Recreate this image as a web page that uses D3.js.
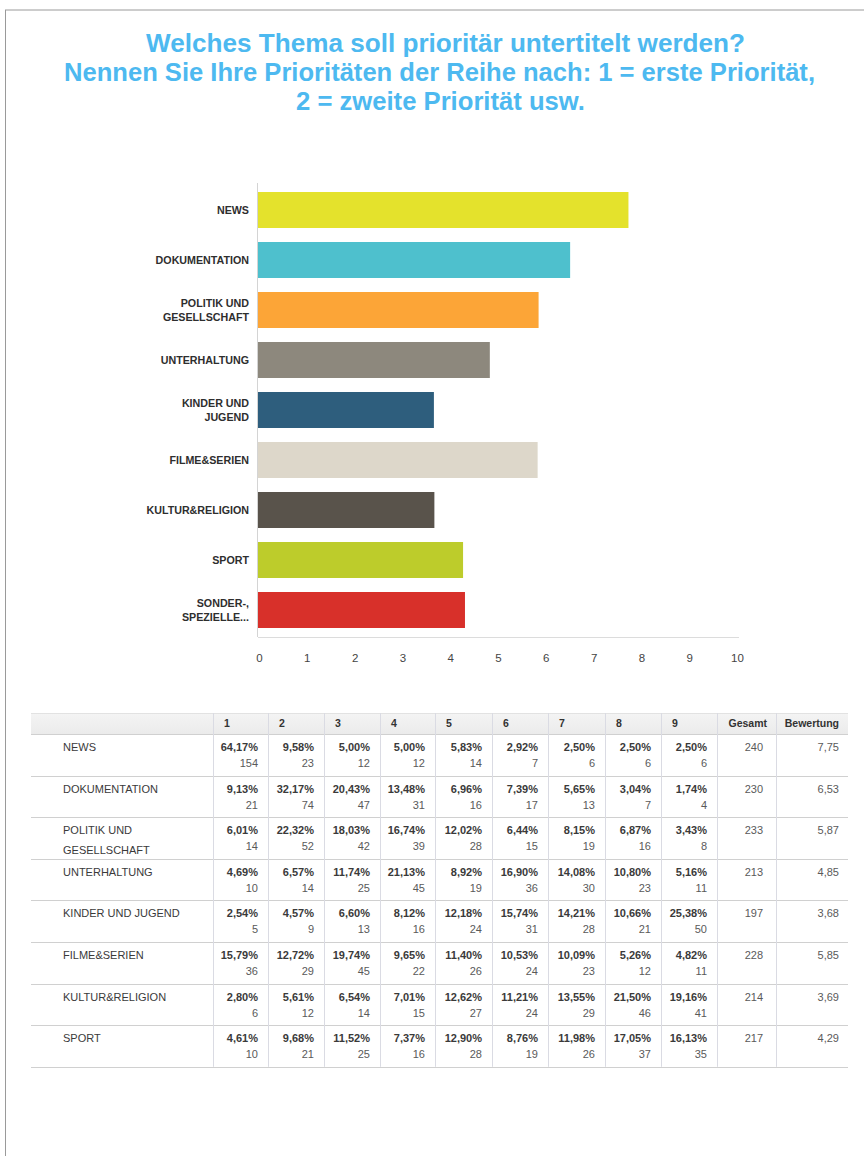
<!DOCTYPE html>
<html>
<head>
<meta charset="utf-8">
<script src="https://cdn.jsdelivr.net/npm/d3@7"></script>
<style>
  html, body { margin: 0; padding: 0; background: #fff; }
  svg { display: block; }
  text { font-family: "Liberation Sans", Arial, sans-serif; }
</style>
</head>
<body>
<svg id="chart" width="864" height="1156"></svg>
<script>
// ---- Data ----
const titleLines = [
  "Welches Thema soll prioritär untertitelt werden?",
  "Nennen Sie Ihre Prioritäten der Reihe nach: 1 = erste Priorität,",
  "2 = zweite Priorität usw."
];

// Bar chart: average rating per topic
const categories = [
  ["NEWS"],
  ["DOKUMENTATION"],
  ["POLITIK UND", "GESELLSCHAFT"],
  ["UNTERHALTUNG"],
  ["KINDER UND", "JUGEND"],
  ["FILME&SERIEN"],
  ["KULTUR&RELIGION"],
  ["SPORT"],
  ["SONDER-,", "SPEZIELLE..."]
];
const scores = [7.75, 6.53, 5.87, 4.85, 3.68, 5.85, 3.69, 4.29, 4.33];
const barColors = ["#e4e22c", "#4ec0cd", "#fca537", "#8d887d", "#2e5e7d",
                   "#ddd7ca", "#59534b", "#bdcc2b", "#d8302a"];
const xTicks = [0, 1, 2, 3, 4, 5, 6, 7, 8, 9, 10];

// Table: share and count per priority rank
const rankHeaders = ["1", "2", "3", "4", "5", "6", "7", "8", "9", "Gesamt", "Bewertung"];
const rowLabels = [
  ["NEWS"],
  ["DOKUMENTATION"],
  ["POLITIK UND", "GESELLSCHAFT"],
  ["UNTERHALTUNG"],
  ["KINDER UND JUGEND"],
  ["FILME&SERIEN"],
  ["KULTUR&RELIGION"],
  ["SPORT"]
];
const percents = [
  [64.17, 9.58, 5.00, 5.00, 5.83, 2.92, 2.50, 2.50, 2.50],
  [9.13, 32.17, 20.43, 13.48, 6.96, 7.39, 5.65, 3.04, 1.74],
  [6.01, 22.32, 18.03, 16.74, 12.02, 6.44, 8.15, 6.87, 3.43],
  [4.69, 6.57, 11.74, 21.13, 8.92, 16.90, 14.08, 10.80, 5.16],
  [2.54, 4.57, 6.60, 8.12, 12.18, 15.74, 14.21, 10.66, 25.38],
  [15.79, 12.72, 19.74, 9.65, 11.40, 10.53, 10.09, 5.26, 4.82],
  [2.80, 5.61, 6.54, 7.01, 12.62, 11.21, 13.55, 21.50, 19.16],
  [4.61, 9.68, 11.52, 7.37, 12.90, 8.76, 11.98, 17.05, 16.13]
];
const counts = [
  [154, 23, 12, 12, 14, 7, 6, 6, 6],
  [21, 74, 47, 31, 16, 17, 13, 7, 4],
  [14, 52, 42, 39, 28, 15, 19, 16, 8],
  [10, 14, 25, 45, 19, 36, 30, 23, 11],
  [5, 9, 13, 16, 24, 31, 28, 21, 50],
  [36, 29, 45, 22, 26, 24, 23, 12, 11],
  [6, 12, 14, 15, 27, 24, 29, 46, 41],
  [10, 21, 25, 16, 28, 19, 26, 37, 35]
];
const totals = [240, 230, 233, 213, 197, 228, 214, 217];
const ratings = [7.75, 6.53, 5.87, 4.85, 3.68, 5.85, 3.69, 4.29];

// ---- Drawing ----
const svg = d3.select("#chart");
const deNum = d3.format(".2f");
const de = v => deNum(v).replace(".", ",");

// page frame
svg.append("line").attr("x1", 5).attr("x2", 864).attr("y1", 10).attr("y2", 10)
  .attr("stroke", "#9a9a9a").attr("stroke-width", 1);
svg.append("line").attr("x1", 5.5).attr("x2", 5.5).attr("y1", 10).attr("y2", 1156)
  .attr("stroke", "#9a9a9a").attr("stroke-width", 1);

// title
const titleSpans = [[146, 745], [64, 815], [296, 585]];
const titleBase = [52, 81, 110];
svg.append("g").selectAll("text").data(titleLines).join("text")
  .attr("x", (d, i) => titleSpans[i][0])
  .attr("y", (d, i) => titleBase[i])
  .attr("textLength", (d, i) => titleSpans[i][1] - titleSpans[i][0])
  .attr("lengthAdjust", "spacingAndGlyphs")
  .style("font-family", "'Liberation Sans Narrow', 'Liberation Sans', sans-serif")
  .style("font-weight", "bold")
  .style("font-size", "25px")
  .attr("fill", "#4db9f0")
  .text(d => d);

// bar chart
const x = d3.scaleLinear().domain([0, 10]).range([258, 736]);
const y = d3.scaleBand().domain(d3.range(categories.length))
  .range([185, 635]).paddingInner(0.28).paddingOuter(0.14);

const chart = svg.append("g");

chart.append("line").attr("x1", x(0) - 0.5).attr("x2", x(0) - 0.5)
  .attr("y1", 183).attr("y2", 637).attr("stroke", "#d4d4d4");
chart.append("line").attr("x1", x(0)).attr("x2", x(10) + 3)
  .attr("y1", 637.5).attr("y2", 637.5).attr("stroke", "#dcdcdc");

chart.selectAll("rect.bar").data(scores).join("rect")
  .attr("class", "bar")
  .attr("x", x(0))
  .attr("y", (d, i) => y(i))
  .attr("width", d => x(d) - x(0))
  .attr("height", y.bandwidth())
  .attr("fill", (d, i) => barColors[i]);

// category labels
const lab = chart.selectAll("text.cat").data(categories).join("text")
  .attr("class", "cat")
  .attr("text-anchor", "end")
  .style("font-weight", "bold")
  .style("font-size", "10.7px")
  .attr("fill", "#2e2e2e");
lab.each(function (lines, i) {
  const cy = y(i) + y.bandwidth() / 2;
  const start = cy - (lines.length - 1) * 7 + 4;
  d3.select(this).selectAll("tspan").data(lines).join("tspan")
    .attr("x", 249)
    .attr("y", (d, j) => start + j * 14)
    .text(d => d);
});

// x axis
const axis = d3.axisBottom(x).tickValues(xTicks).tickSize(0).tickPadding(0)
  .tickFormat(d3.format("d"));
const axG = chart.append("g").attr("transform", "translate(1,662)").call(axis);
axG.select(".domain").remove();
axG.selectAll("text").style("font-size", "11.5px").attr("fill", "#444")
  .attr("dy", 0)
  .style("font-family", "'Liberation Sans', Arial, sans-serif");

// table
const colEdges = [31, 213, 268, 324, 380, 435, 492, 548, 605, 661, 717, 776, 848];
const headTop = 713, headBottom = 734, rowH = 41.6;
const rowY = i => headBottom + i * rowH;
const tableBottom = rowY(rowLabels.length);

const table = svg.append("g");
const grad = svg.append("defs").append("linearGradient").attr("id", "hdr")
  .attr("x1", 0).attr("x2", 0).attr("y1", 0).attr("y2", 1);
grad.append("stop").attr("offset", 0).attr("stop-color", "#f4f4f4");
grad.append("stop").attr("offset", 1).attr("stop-color", "#ebebeb");

table.append("rect").attr("x", colEdges[0]).attr("y", headTop)
  .attr("width", colEdges[12] - colEdges[0]).attr("height", headBottom - headTop)
  .attr("fill", "url(#hdr)");

// horizontal rules
const hLines = [headTop, headBottom].concat(d3.range(1, rowLabels.length + 1).map(rowY));
table.selectAll("line.h").data(hLines).join("line")
  .attr("class", "h")
  .attr("x1", colEdges[0]).attr("x2", colEdges[12])
  .attr("y1", d => Math.round(d) + 0.5).attr("y2", d => Math.round(d) + 0.5)
  .attr("stroke", (d, i) => i === 0 ? "#e2e2e2" : "#d0d0d0");

// vertical rules
table.selectAll("line.v").data(colEdges.slice(1, 12)).join("line")
  .attr("class", "v")
  .attr("x1", d => d + 0.5).attr("x2", d => d + 0.5)
  .attr("y1", headTop).attr("y2", tableBottom)
  .attr("stroke", "#dadbe3");

// header labels
table.selectAll("text.hd").data(rankHeaders).join("text")
  .attr("class", "hd")
  .attr("x", (d, i) => i < 9 ? colEdges[i + 1] + 11 : colEdges[i + 2] - 9)
  .attr("text-anchor", (d, i) => i < 9 ? "start" : "end")
  .attr("y", 727)
  .style("font-weight", "bold")
  .style("font-size", "10.5px")
  .attr("fill", "#333")
  .text(d => d);

// body rows
const rows = table.selectAll("g.row").data(rowLabels).join("g")
  .attr("class", "row")
  .attr("transform", (d, i) => `translate(0,${rowY(i)})`);

rows.append("text")
  .attr("fill", "#3a3a3a")
  .style("font-size", "11px")
  .selectAll("tspan").data(d => d).join("tspan")
  .attr("x", 63)
  .attr("y", (d, j) => 17 + j * 20)
  .text(d => d);

rows.each(function (d, i) {
  const g = d3.select(this);
  g.selectAll("text.pct").data(percents[i]).join("text")
    .attr("class", "pct")
    .attr("x", (v, j) => colEdges[j + 2] - 10)
    .attr("y", 17)
    .attr("text-anchor", "end")
    .style("font-weight", "bold")
    .style("font-size", "11px")
    .attr("fill", "#3a3a3a")
    .text(v => de(v) + "%");
  g.selectAll("text.cnt").data(counts[i]).join("text")
    .attr("class", "cnt")
    .attr("x", (v, j) => colEdges[j + 2] - 10)
    .attr("y", 33)
    .attr("text-anchor", "end")
    .style("font-size", "11px")
    .attr("fill", "#5a5a5a")
    .text(v => v);
  g.append("text")
    .attr("x", colEdges[11] - 13).attr("y", 17)
    .attr("text-anchor", "end")
    .style("font-size", "11px").attr("fill", "#5a5a5a")
    .text(totals[i]);
  g.append("text")
    .attr("x", colEdges[12] - 9).attr("y", 17)
    .attr("text-anchor", "end")
    .style("font-size", "11px").attr("fill", "#5a5a5a")
    .text(de(ratings[i]));
});
</script>
</body>
</html>
